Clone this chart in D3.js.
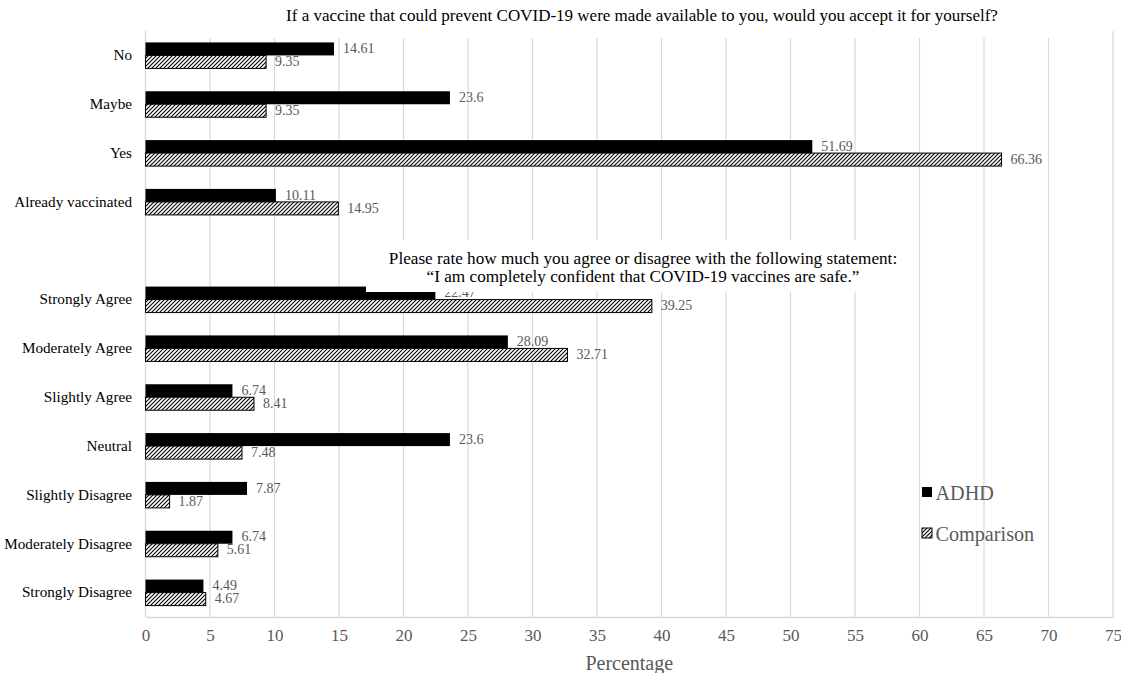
<!DOCTYPE html>
<html>
<head>
<meta charset="utf-8">
<script src="https://cdn.jsdelivr.net/npm/d3@7/dist/d3.min.js"></script>
<style>
  html, body { margin: 0; padding: 0; background: #fff; }
  svg { display: block; }
  text { font-family: "Liberation Serif", "Times New Roman", serif; }
</style>
</head>
<body>
<svg id="chart" width="1121" height="673"></svg>
<script>
// Question 1: vaccine acceptance
const acceptCategories = ["No", "Maybe", "Yes", "Already vaccinated"];
const acceptADHD = [14.61, 23.6, 51.69, 10.11];
const acceptComparison = [9.35, 9.35, 66.36, 14.95];

// Question 2: confidence that vaccines are safe
const safetyCategories = ["Strongly Agree", "Moderately Agree", "Slightly Agree", "Neutral",
  "Slightly Disagree", "Moderately Disagree", "Strongly Disagree"];
const safetyADHD = [22.47, 28.09, 6.74, 23.6, 7.87, 6.74, 4.49];
const safetyComparison = [39.25, 32.71, 8.41, 7.48, 1.87, 5.61, 4.67];

const seriesNames = ["ADHD", "Comparison"];
const xTicks = [0, 5, 10, 15, 20, 25, 30, 35, 40, 45, 50, 55, 60, 65, 70, 75];

const title1 = "If a vaccine that could prevent COVID-19 were made available to you, would you accept it for yourself?";
const title2a = "Please rate how much you agree or disagree with the following statement:";
const title2b = "\u201CI am completely confident that COVID-19 vaccines are safe.\u201D";

// Build rows; a blank slot separates the two question blocks
const GAP = "\u00A0";
const rows = [];
acceptCategories.forEach((c, i) => rows.push({ cat: c, ADHD: acceptADHD[i], Comparison: acceptComparison[i] }));
rows.push({ cat: GAP, ADHD: null, Comparison: null });
safetyCategories.forEach((c, i) => rows.push({ cat: c, ADHD: safetyADHD[i], Comparison: safetyComparison[i] }));

const svg = d3.select("#chart");
const plotLeft = 145.5, plotRight = 1113, plotTop = 31, plotBottom = 617;

const x = d3.scaleLinear().domain([0, 75]).range([plotLeft, plotRight]);
const y = d3.scaleBand().domain(rows.map(r => r.cat)).range([plotTop, plotBottom]);
const pairH = 26;
const y1 = d3.scaleBand().domain(seriesNames).range([0, pairH]);

// Hatch pattern for the comparison group
const defs = svg.append("defs");
const pat = defs.append("pattern")
  .attr("id", "hatch").attr("patternUnits", "userSpaceOnUse")
  .attr("width", 4).attr("height", 4);
pat.append("rect").attr("width", 4).attr("height", 4).attr("fill", "#fff");
pat.append("path")
  .attr("d", "M-1,1 l2,-2 M0,4 l4,-4 M3,5 l2,-2")
  .attr("stroke", "#000").attr("stroke-width", 1.1);

// Vertical gridlines
svg.append("g")
  .selectAll("line").data(xTicks).join("line")
  .attr("x1", d => x(d)).attr("x2", d => x(d))
  .attr("y1", plotTop).attr("y2", plotBottom)
  .attr("stroke", "#d9d9d9").attr("stroke-width", 1.2);

// Category axis line
svg.append("line")
  .attr("x1", plotLeft).attr("x2", plotLeft).attr("y1", plotTop).attr("y2", plotBottom)
  .attr("stroke", "#d9d9d9").attr("stroke-width", 1.2);

// Value axis
const xAxis = svg.append("g")
  .attr("transform", `translate(0,${plotBottom})`)
  .call(d3.axisBottom(x).tickValues(xTicks).tickSize(0).tickPadding(12));
xAxis.select(".domain").attr("stroke", "#d9d9d9").attr("stroke-width", 1.5);
xAxis.selectAll("text")
  .attr("font-family", "Liberation Serif, serif")
  .attr("font-size", 17).attr("fill", "#595959");

svg.append("text")
  .attr("x", (plotLeft + plotRight) / 2).attr("y", 670)
  .attr("text-anchor", "middle").attr("font-size", 20).attr("fill", "#595959")
  .text("Percentage");

// Category labels
const yAxis = svg.append("g")
  .attr("transform", `translate(${plotLeft},0)`)
  .call(d3.axisLeft(y).tickSize(0).tickPadding(13.5));
yAxis.select(".domain").remove();
yAxis.selectAll("text")
  .attr("font-family", "Liberation Serif, serif")
  .attr("font-size", 15.2).attr("fill", "#000");

// Bars
const bars = [];
rows.forEach(r => {
  if (r.ADHD == null) return;
  seriesNames.forEach(s => bars.push({ cat: r.cat, series: s, value: r[s] }));
});
const barY = d => y(d.cat) + (y.bandwidth() - pairH) / 2 + y1(d.series);

svg.append("g")
  .selectAll("rect").data(bars).join("rect")
  .attr("x", x(0))
  .attr("y", d => barY(d))
  .attr("width", d => x(d.value) - x(0))
  .attr("height", y1.bandwidth())
  .attr("fill", d => d.series === "ADHD" ? "#000" : "url(#hatch)")
  .attr("stroke", d => d.series === "ADHD" ? "none" : "#000")
  .attr("stroke-width", 1);

// Value labels
svg.append("g")
  .selectAll("text").data(bars).join("text")
  .attr("x", d => x(d.value) + 9)
  .attr("y", d => barY(d) + y1.bandwidth() / 2 + 1)
  .attr("dominant-baseline", "middle")
  .attr("font-size", 14).attr("fill", "#595959")
  .text(d => String(d.value));

// Titles sit on white boxes above the plot
function titleBox(x0, x1, y0, y1b) {
  svg.append("rect").attr("x", x0).attr("y", y0)
    .attr("width", x1 - x0).attr("height", y1b - y0).attr("fill", "#fff");
}
titleBox(200, 1080, 0, 38);
svg.append("text")
  .attr("x", 642).attr("y", 21)
  .attr("text-anchor", "middle").attr("font-size", 17).attr("fill", "#000")
  .text(title1);

titleBox(366, 918, 240, 292);
svg.append("text")
  .attr("x", 643).attr("y", 264)
  .attr("text-anchor", "middle").attr("font-size", 17.2).attr("fill", "#000")
  .text(title2a);
svg.append("text")
  .attr("x", 643).attr("y", 282)
  .attr("text-anchor", "middle").attr("font-size", 17.2).attr("fill", "#000")
  .text(title2b);

// Legend
const legend = svg.append("g").attr("transform", "translate(922,484)");
seriesNames.forEach((s, i) => {
  const g = legend.append("g").attr("transform", `translate(0,${i * 41})`);
  g.append("rect").attr("x", 0).attr("y", 3).attr("width", 10).attr("height", 10)
    .attr("fill", s === "ADHD" ? "#000" : "url(#hatch)")
    .attr("stroke", s === "ADHD" ? "none" : "#000").attr("stroke-width", 1);
  g.append("text").attr("x", 13.5).attr("y", 16)
    .attr("font-size", 20.2).attr("fill", "#595959").text(s);
});
</script>
</body>
</html>
